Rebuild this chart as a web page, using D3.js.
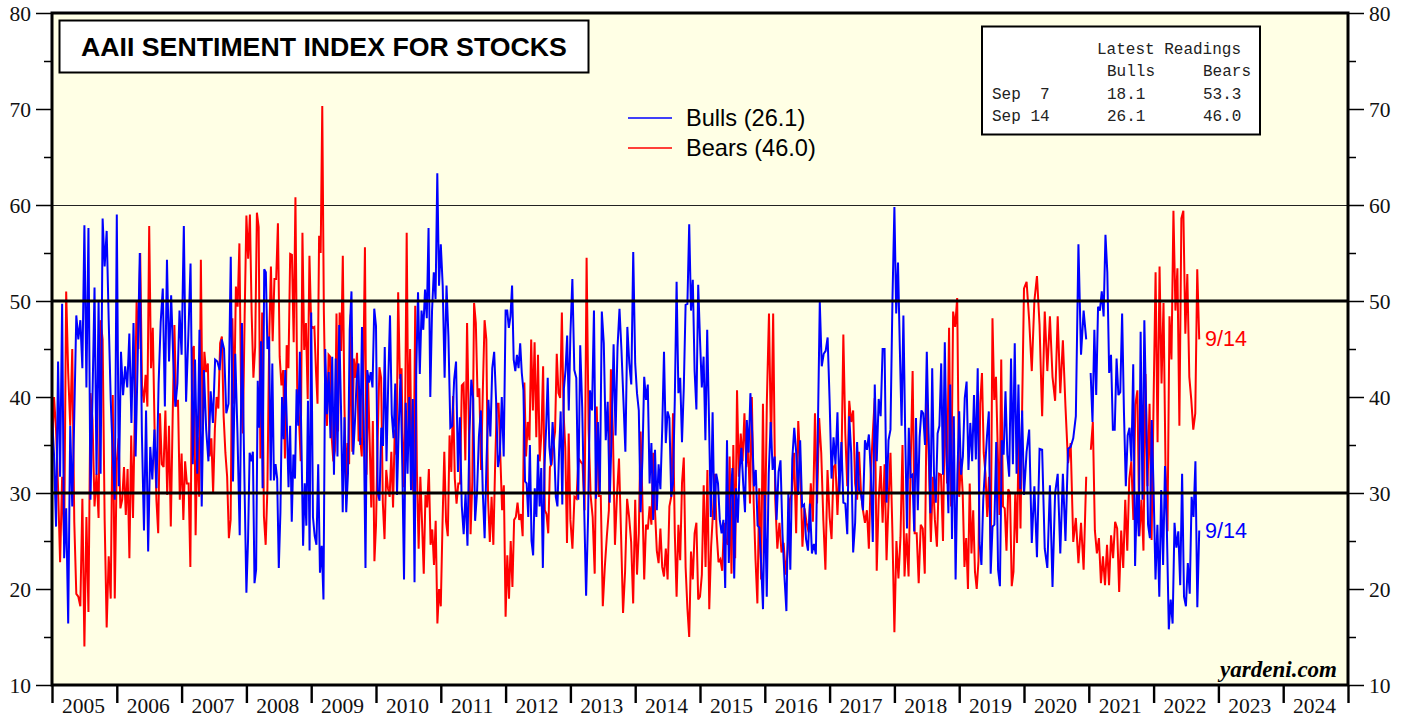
<!DOCTYPE html>
<html><head><meta charset="utf-8">
<script src="https://cdn.jsdelivr.net/npm/d3@7"></script>
<style>html,body{margin:0;padding:0;background:#fff;overflow:hidden}svg{display:block}</style>
</head><body><div id="chart"></div>
<script>
// values, one list per calendar year, spread evenly across that year
const bulls2005=[38,34,26.5,43.7,31.7,49.7,23.2,28.4,16.4,37,28.6,38,48.5,46,48,43,57.9,41,57.6,29.3,40,51.4,31.9,50,32,58.6,53.6,57.3,48,39.7,34,29.3];
const bulls2006=[59,30.7,44.7,40.2,43.2,41,46.6,37.3,47.7,33.8,44,55,36.2,26.1,38.6,23.9,34.8,31.4,36.6,30.5,41.4,47.8,51.3,39,54.3,43.7,50.6,44,39,41.4,49];
const bulls2007=[44.4,57.8,39.5,46.3,53.9,33,43.9,32,47,28.6,42.8,36.6,33.3,40.6,37.3,43.9,43.7,42.8,46,45,38.3,39.3,54.6,31.2,44.5,36.2,25.6,47.7,33];
const bulls2008=[19.6,25,34.2,33.3,34.3,20.6,22,41.7,36.8,45.8,30.5,53.3,53,45,46.3,31.3,43.5,31.3,33,31.5,22.2,28,40,35.6,42.8,37,30.6,37,27,34,31.5,40.8,37,44.7,35,24.5,31,26.6,39.6,24];
const bulls2009=[48.8,27.5,25.5,24.6,33,21.7,24.5,18.9,45,38.2,42.6,35.7,44.2,31.9,44,33.8,47.5,39,28,37.9,28,32,47,51,34,37.5,42,43.5,35,47.3,37.5,22.2,42.8,41.5,42.6,41,49.2];
const bulls2010=[47.4,30,29.2,36.8,34.9,45.2,33.3,41.7,48.5,38.2,35.7,41.4,29.8,37,42.4,33,21,39.4,32,40,30.3,39.8,20.7,42.8,50.9,42.4,49,47,51.2,48.2,57.6,40,49,53,50.2,63.3,51.6];
const bulls2011=[55.9,51.6,42,51.6,46.3,36.8,37,41.8,43.7,32.2,37.9,28.7,25.7,30.1,24.5,36,41.8,39.8,27.1,30,35.9,38.6,30.3,25.3,33.4,39.7,35.9,43,44.7,39.7,32.7,34,40,33.8];
const bulls2012=[49,49,47.2,48.4,51.6,43.9,42.7,44.4,43,45.6,42.5,40.7,31.2,31,27.5,35,25,23.5,30.5,27.5,34,28.6,32.6,22.2,32.7,36.7,42,34.8,32.9,37.4,34.5,29.6,28.6,34.2,38.5,28.8,40.9,42.8,46.4,38.6];
const bulls2013=[46.5,52.3,42.8,42,29.3,45.4,39,28.6,19.3,27.5,40.7,38.6,49,29.4,37.4,30,48.9,45.6,35.5,39.5,29,36.2,45.5,36,45.2,49.2,44.9,39.7,34.3,47.3,43.5,41.3,55.1];
const bulls2014=[43.5,40.4,38.6,28,33.5,42.1,39.7,41.3,31,35.2,27.2,34.5,28.2,33,30.4,36.6,44.7,35.2,38.5,37.8,29.6,31,39.7,52,40.4,42,35.3,41,49.6,49.7,58,49,52.2,42.7,38.7,51.7];
const bulls2015=[46,41,44.2,35.5,47,37.6,27.5,38.4,27.2,32,31,27.2,25.8,27.2,20.1,35.5,22.7,29.3,32.6,21.1,30.5,26.9,32.4,34.7,31,28,37.6,34.2,40.4,36.2,30.7,32.4,26.6,26.4,22.5,17.9];
const bulls2016=[29.8,19.2,32,37.4,32.4,33.8,27.2,32.2,33.4,25.8,21.3,17.7,30.1,22,33.5,36.8,34.2,29.8,35.5,28.6,28.8,25.2,24,28.9,23.7,24.7,23.6,36.2,49.9,43.2,44.5,44.8,46.2];
const bulls2017=[39.7,31.5,35.8,33,38.4,30,35.3,29,28.9,25.7,38,34.2,23.8,26.9,35.3,30.3,30,28.2,35.5,34.5,36.1,32,24.9,41.3,33.3,39.8,38,45,45,29,35.5,36.6,50];
const bulls2018=[59.8,48.7,54,45.2,37,48.5,36.2,26.3,36.8,31.7,31.9,26,37.8,28.2,35.8,38.6,38.3,35,44.7,36.2,27.9,43,32,29,36.2,37,43.5,31.9,45.7,34,27.9,41.3,25.2,38,21,31.9];
const bulls2019=[38.5,31.9,33.8,39.9,41.6,32.4,37.3,33.3,40.2,33.5,43,24.8,22.5,29.4,32.7,35.9,38.5,21.6,26.5,26.7,35.3,22,20.3,35.5,34,40.6,34,31.7,44,33,45.6,32,41.3,30.4,38.6];
const bulls2020=[29.8,34.3,36.6,24.8,30.7,23.3,34.6,34.5,24.2,22.2,30.8,20.2,30,32,23.7,32,25,34.6,34.8,35.7,38,55.9,44.4,49,46];
const bulls2021=[null,42.5,37.4,47,40.2,49.4,49,51,48.4,56.9,53,42.5,44.4,36.6,36.6,44,40.2,40.5,48.7,38.3,30.7,36,36.8,33.3,43.4,22.4,30,25.5,46.8,29.3,48,38.3,26.7,25.3,37.6];
const bulls2022=[30.3,21,26.7,19.2,30.3,22.5,32.8,26,15.8,18.9,16.4,26.9,24.3,26,20.4,32,19.2,18.2,22.7,19.5,29.6,27.5,33.3,18.1,26.1];

const bears2005=[34.5,40,36.6,30.5,22.8,31.7,24.8,51,42.5,37,45,27,19.5,19.2,18.2,29.4,14,27.5,17.6,40.4,37.6,28.6,32,27.4,48,46,27.2,16,23.4,19,40.2,19];
const bears2006=[33.3,35.7,28.4,29.3,32.7,27.7,32.5,23.2,36,27.4,38.3,50,45,55,41.2,39.4,42.3,39,57.8,43,47.2,36.6,29.3,25.8,38.3,33,32.7,38.6,29.8,37,26.5,37.5,47.5,39,39.7,29.3];
const bears2007=[34.1,27.2,33.3,31,31,22.3,44.9,45.3,25.6,35.8,29.6,54.3,36.6,44.7,42.6,43.5,33.8,35.7,30,36.7,40,38.8,45.6,46.3,38,34.2,31.7,25.3,27.2,48.2,39.3,51.5,49.4,56,39.7,36.2,48.4];
const bears2008=[58.9,54.4,59,48.7,42,45.2,59.2,57.7,33.6,48.8,27.6,24.6,30.5,45.8,53.6,45.8,52.3,52.3,58.1,44.2,41.2,42.8,33.6,45.4,43,54.9,54.8,45.7,60.8,41,38,33.3,57.1,44.9,47.7,39.8,54.7];
const bears2009=[47.4,47.2,47.3,42.8,39.3,56.8,55,70.3,49,39,37,44.4,44.2,35.7,33.3,34.4,48.7,36.4,48.8,44.8,54.7,39.3,31.3,35.2,33,48.6,34.3,44,42,44.6,35.4,35.7,33.8,42.7,55.6,31.9,41.6,35.4,28.5,37.5,22.9];
const bears2010=[26.6,35.7,43.1,42,29,25.2,32.4,30.5,29.6,34.3,28.5,36.6,34,50.9,41.9,43,30.6,36.4,57.1,35.7,45,31.2,30.1,49.5,32.3,24.2,31.7,26.9,21.6,29.8,28.5,32.5,24.6,26.2,22.5,27.1,16.4,20];
const bears2011=[18.2,27,34.3,27,25.5,36,32.2,40.1,31.5,28.9,31,31,41.2,41.4,33.4,47.7,37.5,25.7,31.2,49.8,47.7,40,40.9,32.4,40.7,48,46,29.3,24.9,29.6,24.6,32.7,39.3,39.3,33.8,28.2,30.8];
const bears2012=[17.1,23.5,19,25,20.2,27.2,27.5,29,27.2,27.8,25.5,41.5,33.8,37.4,35.5,46,38.6,45.7,35.8,44.4,33.3,36.2,43.2,28.2,27.8,25.8,32.7,33,35,36.4,44.5,40.4,39.9,48.8,38.3,34.7,24.8,36.2];
const bears2013=[27.2,24.2,29.6,29.4,33.6,33.3,33,28.2,54.5,36.6,29.7,27.5,21.6,39,29.7,29.7,18.2,22.3,25.5,28.2,42.9,36.2,24.6,29.7,33.6,25.8,17.5,21.8,29.4,27.5,24.9,18.5];
const bears2014=[29.3,21.5,25.8,36.4,29.3,21,26.7,26.2,28.6,26.7,34.2,28.2,24,22.7,26.3,22.3,21.3,24.2,21,28.6,29.6,38.3,25.8,19.2,26.7,23,31,33.7,22.3,18,15,23.9,21,25.8,26.9,18.9];
const bears2015=[19.2,21.5,30.8,22.3,32.4,17.9,24.4,27.9,32,25.8,22.8,23.1,21.9,26.9,25.1,24.6,33.8,21.6,35,23.2,40.7,31.7,36.2,33.3,38.3,32.7,35,28.9,40,29,23,18.5,30.5,21,39.3];
const bears2016=[23.9,39.7,48.7,34.7,48.7,29.3,24.2,26.9,23.8,24.8,21.5,24.1,29.3,30,34.2,25.8,37.5,32.7,24.4,28.4,26.9,25.9,31,27,38.3,28.9,37.8,34.2,27.2,22,32.4];
const bears2017=[27.5,25.2,32.7,33,27.7,33,32.4,46.5,36.2,30.7,39.6,37.4,38.6,31,29.3,34.3,30,28.2,26.9,28.2,24.2,32.2,36.2,39.9,21.9,29.3,32.8,26.9,33,23,29.1,34.2,25.8];
const bears2018=[15.5,25,21.1,25.4,35,21.3,25.8,21.3,32.7,42.7,25.8,25.8,20.6,26.7,26.3,21.6,40.7,33.4,24.9,31.7,27.2,24.4,32,31.9,25,41,31,47.2,28.6,48.9,47.3,50.3];
const bears2019=[29.6,33.4,30,22.3,25.3,20,31,23.7,28.2,21.8,20,22.9,39.3,42.5,34.2,32,27.5,31.7,24.1,48.2,39.7,42.1,34.5,27.7,43.9,28.6,28.4,24,30.4,30,20.3,21.8,30,24.8,36.7,26.3,39.7];
const bears2020=[51.3,52,48,42.7,50,52.6,47.5,38,48.9,42.7,48.4,42.1,39.6,48.4,40.4,45.9,39,33.1,35.2,24.9,27.4,22.7,26.9,22,31.7];
const bears2021=[null,34.5,37.4,26.1,23.7,25.3,20.6,23.4,20.4,24.6,20.4,25.6,23.2,27,26.3,19.7,26.1,22.2,29.3,24,31.5,33.3,27.2,39.2,40.7,25.5,29.3,24,42.4,30.7,39.3,25.1];
const bears2022=[39.7,53,35.3,53.6,41.4,49.8,32.8,26,48.4,43.9,59.4,49,53.4,37,58.6,59.4,46.6,52.8,42.1,39.7,36.6,38.3,53.3,46];

const years=[2005,2006,2007,2008,2009,2010,2011,2012,2013,2014,2015,2016,2017,2018,2019,2020,2021,2022];
const bullsByYear=[bulls2005,bulls2006,bulls2007,bulls2008,bulls2009,bulls2010,bulls2011,bulls2012,bulls2013,bulls2014,bulls2015,bulls2016,bulls2017,bulls2018,bulls2019,bulls2020,bulls2021,bulls2022];
const bearsByYear=[bears2005,bears2006,bears2007,bears2008,bears2009,bears2010,bears2011,bears2012,bears2013,bears2014,bears2015,bears2016,bears2017,bears2018,bears2019,bears2020,bears2021,bears2022];
const axisYears=[2005,2006,2007,2008,2009,2010,2011,2012,2013,2014,2015,2016,2017,2018,2019,2020,2021,2022,2023,2024];
const lastDate=2022+257/365;   // Sep 14, 2022
const yMajor=[10,20,30,40,50,60,70,80];
const yMinor=[15,25,35,45,55,65,75];
const heavyRefs=[30,50];
const thinRefs=[60];
const legendItems=[{name:"Bulls (26.1)",color:"#0000ff"},{name:"Bears (46.0)",color:"#ff0000"}];
const readings=[["Latest Readings"],["Bulls","Bears"],["Sep  7","18.1","53.3"],["Sep 14","26.1","46.0"]];

const W=1408,H=717,L=52,R=1348,T=13,B=685;
const x=d3.scaleLinear().domain([2005,2025]).range([L,R]);
const y=d3.scaleLinear().domain([10,80]).range([B,T]);
const svg=d3.select("#chart").append("svg").attr("width",W).attr("height",H);
svg.append("rect").attr("x",L).attr("y",T).attr("width",R-L).attr("height",B-T).attr("fill","#ffffe5");

const flatten=list=>list.flatMap((vals,k)=>{
  const yr=years[k];
  return vals.map((v,i)=>{
    const t=yr===2022? yr+(lastDate-2022)*i/(vals.length-1) : yr+i/vals.length;
    return {t,v};
  });
});
const line=d3.line().defined(d=>d.v!==null).x(d=>x(d.t)).y(d=>y(d.v));

svg.selectAll("line.thin").data(thinRefs).join("line").attr("x1",L).attr("x2",R).attr("y1",y).attr("y2",y).attr("stroke","#222").attr("stroke-width",1).attr("shape-rendering","crispEdges");

svg.append("path").datum(flatten(bearsByYear)).attr("d",line).attr("fill","none").attr("stroke","#ff0000").attr("stroke-width",2).attr("stroke-linejoin","miter").attr("stroke-miterlimit",3);
svg.append("path").datum(flatten(bullsByYear)).attr("d",line).attr("fill","none").attr("stroke","#0000ff").attr("stroke-width",2).attr("stroke-linejoin","miter").attr("stroke-miterlimit",3);

svg.selectAll("line.heavy").data(heavyRefs).join("line").attr("x1",L).attr("x2",R).attr("y1",y).attr("y2",y).attr("stroke","#000").attr("stroke-width",3);

// axes
const serif="'Liberation Serif','Times New Roman',serif", sans="'Liberation Sans',Arial,sans-serif", mono="'Liberation Mono','Courier New',monospace";
function yAxis(gen,xpos,minorLen,majorLen,cls){
  const g=svg.append("g").attr("transform",`translate(${xpos},0)`);
  g.call(gen.tickValues(yMajor).tickSize(majorLen).tickPadding(5).tickFormat(d3.format("d")));
  g.select(".domain").remove();
  g.selectAll("line").attr("stroke","#000").attr("stroke-width",1.5);
  g.selectAll("text").attr("font-family",serif).attr("font-size",21.5).attr("fill","#111").attr("dy","0.36em");
  const g2=svg.append("g").attr("transform",`translate(${xpos},0)`);
  g2.call(cls.tickValues(yMinor).tickSize(minorLen).tickFormat(""));
  g2.select(".domain").remove();
  g2.selectAll("line").attr("stroke","#000").attr("stroke-width",1.5);
}
yAxis(d3.axisLeft(y),L,8,16,d3.axisLeft(y));
yAxis(d3.axisRight(y),R,8,16,d3.axisRight(y));

const gx=svg.append("g").attr("transform",`translate(0,${B})`);
gx.call(d3.axisBottom(x).tickValues(axisYears.concat([2025])).tickSize(18).tickFormat(""));
gx.select(".domain").remove();
gx.selectAll("line").attr("stroke","#000").attr("stroke-width",2.4);
svg.selectAll("text.yr").data(axisYears).join("text").attr("class","yr").attr("x",d=>x(d+0.5)-1).attr("y",713)
  .attr("text-anchor","middle").attr("font-family",serif).attr("font-size",21.5).attr("fill","#111").text(d=>d);

// frame
svg.append("rect").attr("x",L).attr("y",T).attr("width",R-L).attr("height",B-T).attr("fill","none").attr("stroke","#000").attr("stroke-width",3);

// title box
svg.append("rect").attr("x",59.5).attr("y",20.5).attr("width",529).attr("height",52).attr("fill","#fff").attr("stroke","#000").attr("stroke-width",2);
svg.append("text").attr("x",81).attr("y",56).attr("font-family",sans).attr("font-weight","bold").attr("font-size",26.7).attr("fill","#000").text("AAII SENTIMENT INDEX FOR STOCKS");

// legend
legendItems.forEach((d,i)=>{
  const ly=118+i*30;
  svg.append("line").attr("x1",628).attr("x2",672).attr("y1",ly).attr("y2",ly).attr("stroke",d.color).attr("stroke-width",1.3);
  svg.append("text").attr("x",686).attr("y",ly+8).attr("font-family",sans).attr("font-size",23.6).attr("fill","#000").text(d.name);
});

// readings box
svg.append("rect").attr("x",982).attr("y",26.5).attr("width",278).attr("height",108).attr("fill","#fff").attr("stroke","#000").attr("stroke-width",2);
const mt=(tx,ty,s)=>svg.append("text").attr("x",tx).attr("y",ty).attr("font-family",mono).attr("font-size",16).attr("fill","#222").style("white-space","pre").text(s);
mt(1097,54,readings[0][0]);
mt(1107,76,readings[1][0]); mt(1203,76,readings[1][1]);
readings.slice(2).forEach((r,i)=>{const ty=99+i*22; mt(992,ty,r[0]); mt(1107,ty,r[1]); mt(1203,ty,r[2]);});

// end labels
svg.append("text").attr("x",1205).attr("y",346).attr("font-family",sans).attr("font-size",21.5).attr("fill","#ff0000").text("9/14");
svg.append("text").attr("x",1205).attr("y",538).attr("font-family",sans).attr("font-size",21.5).attr("fill","#0000ff").text("9/14");

// source
svg.append("text").attr("x",1337).attr("y",677).attr("text-anchor","end").attr("font-family",serif).attr("font-weight","bold").attr("font-style","italic").attr("font-size",23).attr("fill","#000").text("yardeni.com");
</script></body></html>
